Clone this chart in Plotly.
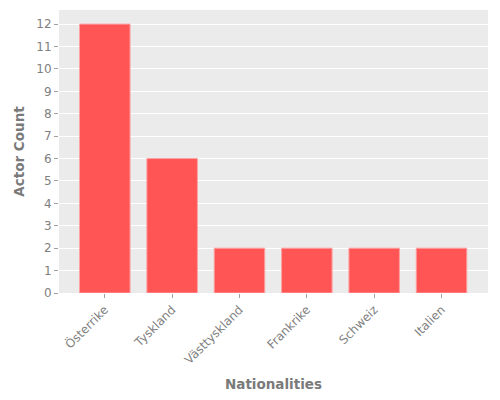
import plotly.graph_objects as go

# actors per nationality
nationalities = ["Österrike", "Tyskland", "Västtyskland", "Frankrike", "Schweiz", "Italien"]
actor_counts = [12, 6, 2, 2, 2, 2]

fig = go.Figure()
fig.add_trace(go.Bar(
    x=nationalities,
    y=actor_counts,
    width=0.75,
    marker=dict(color="#FF5555", line=dict(color="#FFA0A0", width=1)),
))

axis_font = dict(family="DejaVu Sans", size=12, color="#808080")
title_font = dict(family="DejaVu Sans", size=13.5, color="#7a7a7a")

fig.update_layout(
    width=500, height=400,
    margin=dict(l=51, r=20, t=2, b=115),
    paper_bgcolor="white",
    plot_bgcolor="#EBEBEB",
    showlegend=False,
    font=dict(family="DejaVu Sans"),
)
fig.update_xaxes(
    range=[-0.68, 5.69],
    automargin=False,
    tickangle=-45,
    tickfont=axis_font,
    ticks="outside", ticklen=4, tickcolor="#a0a0a0",
    showgrid=False,
    title=dict(text="<b>Nationalities</b>", font=title_font, standoff=13),
)
fig.update_yaxes(
    range=[0, 12.63],
    dtick=1,
    automargin=False,
    tickfont=axis_font,
    ticks="outside", ticklen=4, tickcolor="#a0a0a0",
    gridcolor="white", gridwidth=1,
    zeroline=False,
    title=dict(text="<b>Actor Count</b>", font=title_font, standoff=8),
)

fig.write_html("out.html")
